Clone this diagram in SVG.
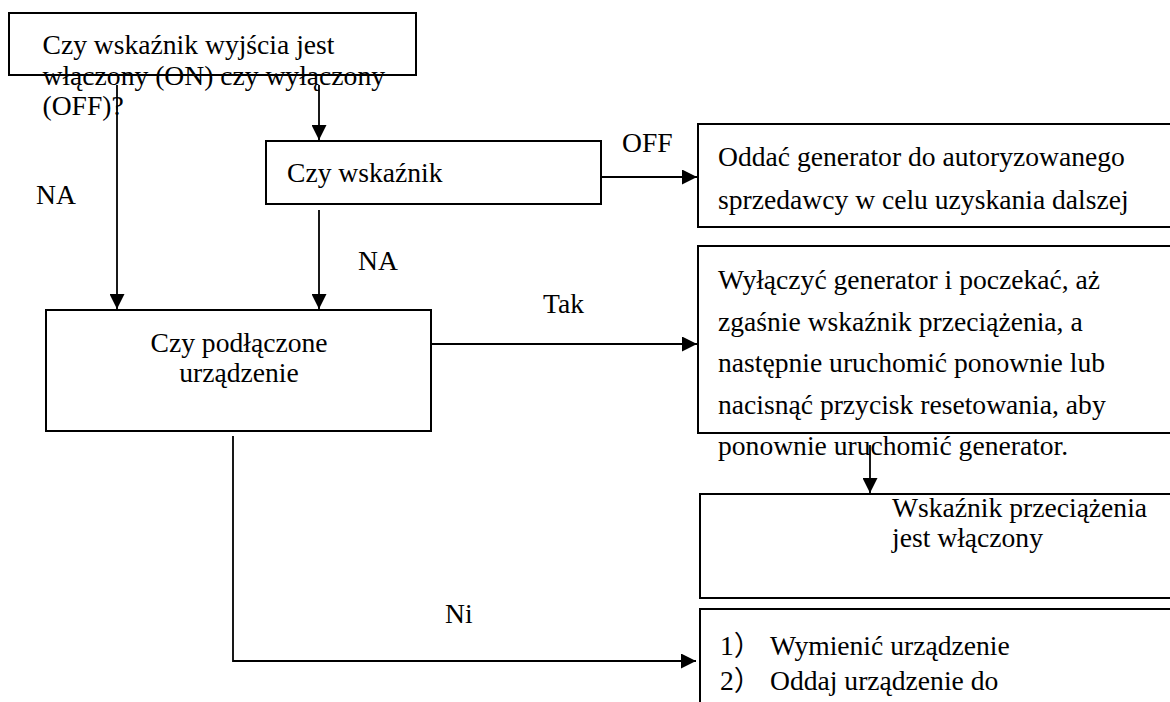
<svg xmlns="http://www.w3.org/2000/svg" width="1170" height="702" viewBox="0 0 1170 702">
<style>
  .box { fill: none; stroke: #000; stroke-width: 2; }
  .conn { fill: none; stroke: #000; stroke-width: 1.8; }
  .t { font-family: 'Liberation Serif', 'Times New Roman', serif; font-size: 27.6px; fill: #000; }
  .cjk { font-family: 'Liberation Serif', 'Noto Sans CJK SC', serif; }
</style>
<defs>
  <marker id="arr" viewBox="0 0 10 10" refX="10" refY="5" markerWidth="15" markerHeight="15" markerUnits="userSpaceOnUse" orient="auto">
    <path d="M0,0 L10,5 L0,10 z" fill="#000"/>
  </marker>
</defs>
<rect width="1170" height="702" fill="#fff"/>

<g id="n-start">
  <rect class="box" x="9" y="13" width="407" height="62"/>
  <text class="t" x="42.5" y="54">Czy wskaźnik wyjścia jest</text>
  <text class="t" x="42.5" y="84.5">włączony (ON) czy wyłączony</text>
  <text class="t" x="42.5" y="115">(OFF)?</text>
</g>

<g id="n-czy-wskaznik">
  <rect class="box" x="266" y="141" width="335" height="63"/>
  <text class="t" x="287" y="182">Czy wskaźnik</text>
</g>

<g id="n-podlaczone">
  <rect class="box" x="46" y="310" width="385" height="121"/>
  <text class="t" x="239" y="352" text-anchor="middle">Czy podłączone</text>
  <text class="t" x="239" y="382" text-anchor="middle">urządzenie</text>
</g>

<g id="n-oddac">
  <rect class="box" x="698" y="124" width="490" height="103"/>
  <text class="t" x="718" y="166">Oddać generator do autoryzowanego</text>
  <text class="t" x="718" y="209">sprzedawcy w celu uzyskania dalszej</text>
</g>

<g id="n-wylaczyc">
  <rect class="box" x="698" y="246" width="490" height="187"/>
  <text class="t" x="718" y="289">Wyłączyć generator i poczekać, aż</text>
  <text class="t" x="718" y="331">zgaśnie wskaźnik przeciążenia, a</text>
  <text class="t" x="718" y="372">następnie uruchomić ponownie lub</text>
  <text class="t" x="718" y="414">nacisnąć przycisk resetowania, aby</text>
  <text class="t" x="718" y="455">ponownie uruchomić generator.</text>
</g>

<g id="n-wskaznik-przeciazenia">
  <rect class="box" x="700" y="494" width="490" height="104"/>
  <text class="t" x="892" y="517">Wskaźnik przeciążenia</text>
  <text class="t" x="892" y="547">jest włączony</text>
</g>

<g id="n-wymienic">
  <rect class="box" x="700" y="609" width="490" height="120"/>
  <text class="t cjk" x="720" y="655">1）</text>
  <text class="t" x="770" y="655">Wymienić urządzenie</text>
  <text class="t cjk" x="720" y="690">2）</text>
  <text class="t" x="770" y="690">Oddaj urządzenie do</text>
</g>

<g id="connectors">
  <line class="conn" x1="117" y1="85" x2="117" y2="309" marker-end="url(#arr)"/>
  <line class="conn" x1="319" y1="85" x2="319" y2="140" marker-end="url(#arr)"/>
  <line class="conn" x1="319" y1="210" x2="319" y2="309" marker-end="url(#arr)"/>
  <line class="conn" x1="601" y1="177" x2="697" y2="177" marker-end="url(#arr)"/>
  <line class="conn" x1="431" y1="344" x2="697" y2="344" marker-end="url(#arr)"/>
  <line class="conn" x1="870" y1="445" x2="870" y2="493" marker-end="url(#arr)"/>
  <polyline class="conn" points="233,436 233,661 696,661" marker-end="url(#arr)"/>
  <text class="t" x="36" y="204">NA</text>
  <text class="t" x="358" y="270">NA</text>
  <text class="t" x="622" y="152">OFF</text>
  <text class="t" x="543" y="313">Tak</text>
  <text class="t" x="445" y="623">Ni</text>
</g>
</svg>
